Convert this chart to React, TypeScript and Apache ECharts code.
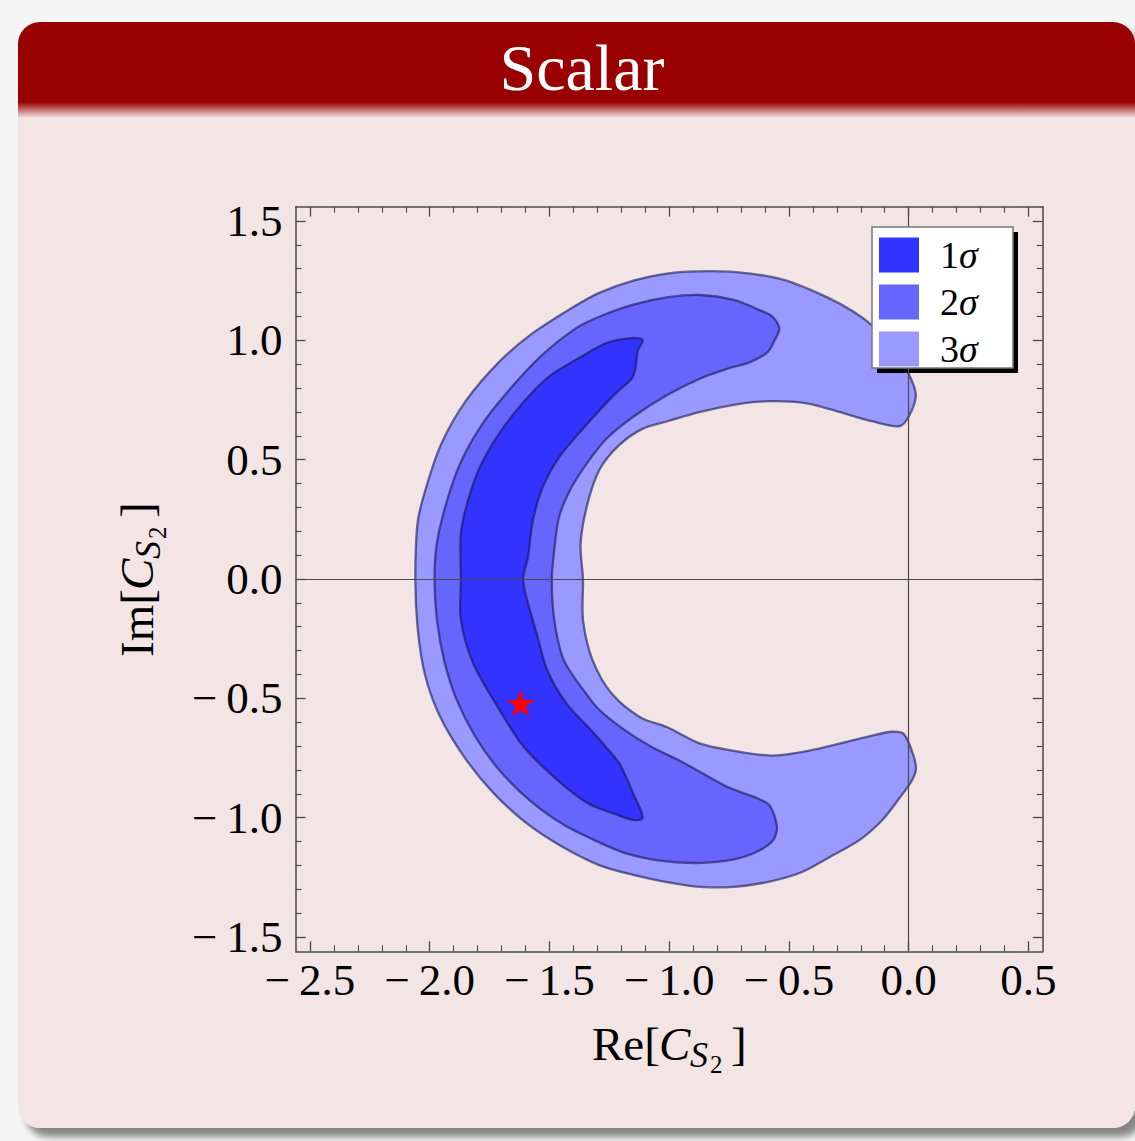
import React, { useEffect, useRef } from "react";
import * as echarts from "echarts";

// ---------- data ----------
const xRange = [-2.56, 0.56];
const yRange = [-1.56, 1.56];
const xTicks = [-2.5, -2.0, -1.5, -1.0, -0.5, 0.0, 0.5];
const yTicks = [-1.5, -1.0, -0.5, 0.0, 0.5, 1.0, 1.5];

const levelNames = ["1σ", "2σ", "3σ"];
const levelColors = ["#3333FF", "#6666FF", "#9999FF"];

// 3σ region (C-shaped band): outer edge, lower mouth, inner edge, upper mouth
const sigma3: number[][] = [
  [0.0, 0.86], [-0.04, 0.92], [-0.1, 1.0], [-0.15, 1.06], [-0.23, 1.12], [-0.34, 1.18],
  [-0.51, 1.25], [-0.66, 1.28], [-0.83, 1.29], [-1.01, 1.28], [-1.15, 1.25], [-1.29, 1.2],
  [-1.4, 1.14], [-1.57, 1.03], [-1.71, 0.91], [-1.85, 0.745], [-1.95, 0.57], [-2.01, 0.4],
  [-2.05, 0.24], [-2.06, 0.0], [-2.05, -0.21], [-2.02, -0.4], [-1.96, -0.57], [-1.86, -0.74],
  [-1.74, -0.89], [-1.6, -1.02], [-1.45, -1.12], [-1.29, -1.2], [-1.15, -1.24], [-1.01, -1.27],
  [-0.87, -1.29], [-0.73, -1.29], [-0.59, -1.27], [-0.45, -1.23], [-0.32, -1.16], [-0.2, -1.09],
  [-0.11, -1.01], [-0.04, -0.92], [0.01, -0.85], [0.03, -0.8], [0.02, -0.74], [-0.02, -0.65],
  [-0.07, -0.64], [-0.17, -0.66], [-0.29, -0.69], [-0.42, -0.72], [-0.57, -0.74], [-0.73, -0.72],
  [-0.87, -0.69], [-1.01, -0.62], [-1.12, -0.58], [-1.24, -0.48], [-1.32, -0.34], [-1.36, -0.17],
  [-1.36, 0.0], [-1.37, 0.15], [-1.34, 0.32], [-1.29, 0.46], [-1.21, 0.56], [-1.11, 0.63],
  [-1.01, 0.66], [-0.87, 0.7], [-0.7, 0.735], [-0.57, 0.745], [-0.42, 0.735], [-0.29, 0.7],
  [-0.15, 0.66], [-0.04, 0.64], [0.0, 0.68], [0.03, 0.77],
];

// 2σ region
const sigma2: number[][] = [
  [-0.54, 1.05], [-0.57, 1.1], [-0.63, 1.13], [-0.73, 1.17], [-0.87, 1.19], [-1.01, 1.18],
  [-1.15, 1.15], [-1.29, 1.1], [-1.39, 1.05], [-1.54, 0.93], [-1.67, 0.79], [-1.78, 0.65],
  [-1.87, 0.49], [-1.93, 0.32], [-1.97, 0.15], [-1.98, 0.0], [-1.97, -0.17], [-1.94, -0.34],
  [-1.89, -0.5], [-1.81, -0.66], [-1.71, -0.8], [-1.58, -0.93], [-1.44, -1.03], [-1.3, -1.1],
  [-1.18, -1.15], [-1.04, -1.18], [-0.9, -1.19], [-0.76, -1.18], [-0.65, -1.15], [-0.57, -1.1],
  [-0.55, -1.04], [-0.58, -0.95], [-0.63, -0.92], [-0.76, -0.87], [-0.94, -0.77], [-1.08, -0.7],
  [-1.19, -0.63], [-1.29, -0.55], [-1.34, -0.49], [-1.44, -0.34], [-1.48, -0.17], [-1.49, 0.0],
  [-1.48, 0.12], [-1.46, 0.26], [-1.41, 0.38], [-1.34, 0.49], [-1.26, 0.59], [-1.15, 0.68],
  [-1.01, 0.77], [-0.87, 0.84], [-0.76, 0.88], [-0.66, 0.91], [-0.59, 0.95], [-0.56, 1.0],
];

// 1σ region
const sigma1: number[][] = [
  [-1.11, 1.0], [-1.15, 1.01], [-1.26, 0.99], [-1.37, 0.93], [-1.5, 0.85], [-1.61, 0.74],
  [-1.71, 0.61], [-1.79, 0.47], [-1.84, 0.33], [-1.87, 0.19], [-1.87, 0.0], [-1.87, -0.17],
  [-1.82, -0.35], [-1.72, -0.53], [-1.61, -0.7], [-1.47, -0.84], [-1.34, -0.94], [-1.24, -0.98],
  [-1.15, -1.01], [-1.11, -1.0], [-1.15, -0.9], [-1.18, -0.83], [-1.21, -0.77], [-1.32, -0.64],
  [-1.43, -0.52], [-1.51, -0.38], [-1.55, -0.24], [-1.59, -0.1], [-1.61, 0.0], [-1.59, 0.09],
  [-1.57, 0.24], [-1.53, 0.38], [-1.46, 0.51], [-1.36, 0.63], [-1.26, 0.74], [-1.21, 0.79],
  [-1.15, 0.85], [-1.13, 0.96],
];

const bestFit: number[][] = [[-1.62, -0.52]];

// ---------- styling helpers ----------
const SERIF = '"Liberation Serif", "Times New Roman", serif';
const STAR =
  "path://M0,-10L2.234,-3.074L9.511,-3.09L3.614,1.174L5.878,8.09L0,3.8L-5.878,8.09L-3.614,1.174L-9.511,-3.09L-2.234,-3.074Z";

const fmt = (v: number) => {
  const s = Math.abs(v).toFixed(1);
  return v < -1e-9 ? "\u2212\u2009" + s : s;
};

function titleParts(main: string) {
  const parts = [
    { t: main + "[", u: 0, v: 0, fs: 47, it: false },
    { t: "C", u: 67, v: 0, fs: 47, it: true },
    { t: "S", u: 98, v: 7, fs: 36, it: true },
    { t: "2", u: 118, v: 13, fs: 25, it: false },
    { t: "]", u: 139, v: 0, fs: 47, it: false },
  ];
  return parts.map((p) => ({
    type: "text",
    x: p.u,
    y: p.v - 0.3375 * p.fs,
    style: {
      text: p.t,
      font: `${p.it ? "italic " : ""}${p.fs}px ${SERIF}`,
      fill: "#000",
      align: "left",
      verticalAlign: "middle",
    },
  }));
}

function polygonSeries(name: string, pts: number[][], color: string, order: number) {
  return {
    type: "custom",
    name,
    coordinateSystem: "cartesian2d",
    xAxisIndex: 0,
    yAxisIndex: 0,
    z: 2,
    silent: true,
    data: pts,
    encode: { x: 0, y: 1 },
    itemStyle: { color },
    renderItem: (params: any, api: any) => {
      if (params.dataIndex !== 0) return null;
      const points = pts.map((p) => api.coord(p));
      return {
        type: "polygon",
        z2: order,
        shape: { points, smooth: 0.3 },
        style: {
          fill: color,
          stroke: "rgba(22,22,80,0.6)",
          lineWidth: 2.3,
          lineJoin: "round",
        },
      };
    },
  };
}

const lineCol = "#4a4a4a";
const axisBase = {
  type: "value",
  splitNumber: 6,
  axisLine: { show: true, onZero: false, lineStyle: { color: lineCol, width: 1.5 } },
  minorTick: { show: true, splitNumber: 5, length: 6, lineStyle: { color: lineCol, width: 1.1 } },
  splitLine: { show: false },
  minorSplitLine: { show: false },
};

export default function App() {
  const ref = useRef<HTMLDivElement>(null);

  useEffect(() => {
    if (!ref.current) return;
    const chart = echarts.init(ref.current, null, { renderer: "svg" });
    const labelStyle = { fontSize: 45, fontFamily: SERIF, color: "#000" };

    const option: any = {
      animation: false,
      backgroundColor: "transparent",
      textStyle: { fontFamily: SERIF },
      grid: { left: 295.6, top: 206.7, width: 747.2, height: 744.6, outerBoundsMode: "none", containLabel: false },
      xAxis: [
        {
          ...axisBase,
          position: "bottom",
          min: xRange[0],
          max: xRange[1],
          axisTick: { show: true, inside: true, length: 10, customValues: xTicks, lineStyle: { color: lineCol, width: 1.3 } },
          axisLabel: { show: true, customValues: xTicks, formatter: fmt, margin: 6, ...labelStyle },
        },
        {
          ...axisBase,
          position: "top",
          min: xRange[0],
          max: xRange[1],
          axisTick: { show: true, inside: true, length: 10, customValues: xTicks, lineStyle: { color: lineCol, width: 1.3 } },
          axisLabel: { show: false },
        },
      ],
      yAxis: [
        {
          ...axisBase,
          position: "left",
          min: yRange[0],
          max: yRange[1],
          axisTick: { show: true, inside: true, length: 10, customValues: yTicks, lineStyle: { color: lineCol, width: 1.3 } },
          axisLabel: { show: true, customValues: yTicks, formatter: fmt, margin: 13, padding: [0, 0, 8, 0], ...labelStyle },
        },
        {
          ...axisBase,
          position: "right",
          min: yRange[0],
          max: yRange[1],
          axisTick: { show: true, inside: true, length: 10, customValues: yTicks, lineStyle: { color: lineCol, width: 1.3 } },
          axisLabel: { show: false },
        },
      ],
      legend: {
        show: true,
        data: levelNames,
        orient: "vertical",
        left: 872,
        top: 227,
        padding: [9, 20, 9, 7],
        itemGap: 9,
        itemWidth: 40,
        itemHeight: 35,
        icon: "rect",
        selectedMode: false,
        backgroundColor: "transparent",
        borderWidth: 0,
        z: 7,
        itemStyle: { borderWidth: 0 },
        formatter: (name: string) => `{n|${name.slice(0, -1)}}{s|σ}`,
        textStyle: {
          color: "#000",
          fontFamily: SERIF,
          fontSize: 38,
          rich: {
            n: { fontFamily: SERIF, fontSize: 38, color: "#000", padding: [0, 0, 0, 16] },
            s: { fontFamily: SERIF, fontSize: 38, fontStyle: "italic", color: "#000" },
          },
        },
      },
      graphic: {
        elements: [
          {
            type: "text",
            x: 582,
            y: 67,
            z: 10,
            style: {
              text: "Scalar",
              font: `66px ${SERIF}`,
              fill: "#ffffff",
              align: "center",
              verticalAlign: "middle",
            },
          },
          { type: "group", x: 592, y: 1060, children: titleParts("Re") },
          { type: "group", x: 153, y: 657, rotation: Math.PI / 2, children: titleParts("Im") },
          {
            type: "rect",
            z: 5,
            silent: true,
            shape: { x: 877, y: 232, width: 141, height: 141 },
            style: { fill: "#000" },
          },
          {
            type: "rect",
            z: 6,
            silent: true,
            shape: { x: 872, y: 227, width: 141, height: 141 },
            style: { fill: "#ffffff", stroke: "#777", lineWidth: 1.5 },
          },
        ],
      },
      series: [
        polygonSeries(levelNames[2], sigma3, levelColors[2], 1),
        polygonSeries(levelNames[1], sigma2, levelColors[1], 2),
        polygonSeries(levelNames[0], sigma1, levelColors[0], 3),
        {
          type: "scatter",
          name: "best fit",
          data: bestFit,
          symbol: STAR,
          symbolSize: [28, 27],
          itemStyle: { color: "#FF0000", opacity: 1 },
          z: 3,
          silent: true,
          markLine: {
            silent: true,
            symbol: ["none", "none"],
            label: { show: false },
            lineStyle: { color: lineCol, width: 1.2, type: "solid", opacity: 1 },
            data: [{ xAxis: 0 }, { yAxis: 0 }],
          },
        },
      ],
    };
    chart.setOption(option);
    return () => chart.dispose();
  }, []);

  return (
    <div
      style={{
        position: "absolute",
        left: 0,
        top: 0,
        width: 1135,
        height: 1141,
        background: "#f6f5f5",
        overflow: "hidden",
      }}
    >
      <div
        style={{
          position: "absolute",
          left: 18,
          top: 22,
          width: 1117,
          height: 1106,
          borderRadius: 22,
          background: "linear-gradient(to bottom, #990000 0px, #990000 80px, #F3E5E5 96px, #F3E5E5 100%)",
          boxShadow: "8px 9px 7px rgba(0,0,0,0.45)",
        }}
      />
      <div ref={ref} style={{ position: "absolute", left: 0, top: 0, width: 1135, height: 1141 }} />
    </div>
  );
}
